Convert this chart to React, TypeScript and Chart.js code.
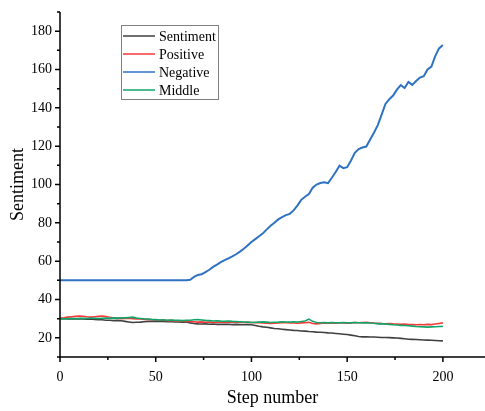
import React, { useEffect, useRef } from 'react';
import { Chart, registerables } from 'chart.js';
Chart.register(...registerables);

const steps = [
  0, 2, 4, 6, 8, 10, 12, 14, 16, 18,
  20, 22, 24, 26, 28, 30, 32, 34, 36, 38,
  40, 42, 44, 46, 48, 50, 52, 54, 56, 58,
  60, 62, 64, 66, 68, 70, 72, 74, 76, 78,
  80, 82, 84, 86, 88, 90, 92, 94, 96, 98,
  100, 102, 104, 106, 108, 110, 112, 114, 116, 118,
  120, 122, 124, 126, 128, 130, 132, 134, 136, 138,
  140, 142, 144, 146, 148, 150, 152, 154, 156, 158,
  160, 162, 164, 166, 168, 170, 172, 174, 176, 178,
  180, 182, 184, 186, 188, 190, 192, 194, 196, 198,
  200,
];

const sentiment = [
  30, 30.1, 29.9, 30, 29.8, 30, 29.9, 29.7, 29.8, 29.6,
  29.5, 29.4, 29.2, 29.2, 29, 29.1, 28.9, 28.6, 28.3, 28,
  28.1, 28.2, 28.4, 28.6, 28.6, 28.7, 28.5, 28.6, 28.4, 28.5,
  28.3, 28.3, 28.2, 28.3, 27.8, 27.5, 27.3, 27.2, 27.3, 27.1,
  27.2, 27, 27.1, 27, 27.1, 26.9, 27, 26.9, 26.8, 26.9,
  26.8, 26.4, 26, 25.7, 25.5, 25.2, 24.9, 24.7, 24.5, 24.3,
  24.1, 23.9, 23.8, 23.6, 23.5, 23.3, 23.2, 23, 22.9, 22.8,
  22.6, 22.5, 22.3, 22.1, 21.9, 21.7, 21.4, 21.1, 20.7, 20.5,
  20.5, 20.4, 20.4, 20.3, 20.2, 20.2, 20.1, 20, 19.9, 19.7,
  19.5, 19.3, 19.2, 19.1, 19, 18.9, 18.8, 18.7, 18.6, 18.5,
  18.4,
];

const positive = [
  30.3, 30.5, 30.8, 31, 31.2, 31.4, 31.3, 31, 30.8, 31,
  31.2, 31.4, 31.1, 30.7, 30.5, 30.3, 30, 30.1, 30.2, 30,
  29.8, 29.9, 29.6, 29.7, 29.5, 29.4, 29.2, 29.3, 29, 29.1,
  28.9, 28.8, 28.7, 28.6, 28.5, 28.4, 28.2, 28.3, 28.1, 28.2,
  28, 28.1, 28.2, 28, 28.1, 28.2, 28.3, 28.1, 28, 28.1,
  28, 27.9, 28, 27.8, 27.6, 27.5, 27.6, 27.7, 27.9, 28,
  27.8, 27.7, 27.6, 27.8, 27.9, 28.1, 27.5, 27.3, 27.5, 27.7,
  27.6, 27.8, 27.7, 27.9, 27.8, 27.6, 27.8, 28, 27.9, 28,
  28.1, 27.9, 27.7, 27.6, 27.4, 27.3, 27.5, 27.3, 27.2, 27.1,
  27.2, 26.9, 26.9, 26.8, 26.9, 26.8, 27, 26.9, 27.2, 27.5,
  27.8,
];

const negative = [
  50, 50, 50, 50, 50, 50, 50, 50, 50, 50,
  50, 50, 50, 50, 50, 50, 50, 50, 50, 50,
  50, 50, 50, 50, 50, 50, 50, 50, 50, 50,
  50, 50, 50, 50, 50.3, 51.8, 52.8, 53.2, 54.3, 55.5,
  57, 58.2, 59.5, 60.5, 61.5, 62.5, 63.6, 65, 66.5, 68.2,
  70, 71.5, 73, 74.5, 76.6, 78.5, 80, 81.8, 83, 84,
  84.7, 86.5, 89, 92, 93.6, 95, 98.3, 100, 100.8, 101.2,
  100.7, 103.5, 106.5, 109.8, 108.5, 109, 112.5, 116.5, 118.5, 119.3,
  119.8, 123.5, 127, 131, 136.5, 142, 144.5, 146.4, 149.5, 151.9,
  150.3, 153.5, 152, 154, 155.8, 156.5, 160, 161.5, 167, 171,
  172.8,
];

const middle = [
  30, 29.9, 30, 30.1, 30, 30.1, 30.2, 30.1, 30.3, 30.2,
  30.1, 30.2, 30.3, 30.2, 30.4, 30.3, 30.5, 30.4, 30.6, 30.8,
  30.3, 30.1, 29.9, 29.8, 29.6, 29.5, 29.3, 29.4, 29.2, 29.3,
  29.2, 29.1, 29, 29.1, 29.2, 29.4, 29.5, 29.3, 29.1, 29,
  28.8, 28.9, 28.7, 28.6, 28.8, 28.6, 28.5, 28.4, 28.3, 28.2,
  28, 28.1, 28.2, 28.3, 28.2, 28, 28.1, 28.2, 28.4, 28.3,
  28.2, 28.4, 28.3, 28.5, 28.8, 29.8, 28.6, 28, 27.9, 28,
  27.8, 28, 27.9, 27.8, 28, 27.9, 27.8, 28, 27.9, 27.8,
  27.9, 27.7, 27.6, 27.3, 27.4, 27.2, 27, 26.8, 26.7, 26.5,
  26.4, 26.3, 26.1, 25.9, 25.8, 25.7, 25.6, 25.7, 25.8, 25.9,
  26,
];

const seriesNames = ['Sentiment', 'Positive', 'Negative', 'Middle'];
const seriesColors = ['#404040', '#f53a3a', '#2f72c2', '#12a56a'];

const xMajor = [0, 50, 100, 150, 200];
const xMinor = [25, 75, 125, 175];
const yMajor = [20, 40, 60, 80, 100, 120, 140, 160, 180];
const yMinor = [10, 30, 50, 70, 90, 110, 130, 150, 170, 190];

const FONT = "'Liberation Serif', 'Times New Roman', serif";

const decorPlugin = {
  id: 'decor',
  afterDraw(chart: any) {
    const ctx = chart.ctx as CanvasRenderingContext2D;
    const xs = chart.scales.x;
    const ys = chart.scales.y;
    const { left, right, top, bottom } = chart.chartArea;
    ctx.save();
    ctx.strokeStyle = '#000';
    ctx.lineWidth = 1.5;
    ctx.beginPath();
    ctx.moveTo(left, top);
    ctx.lineTo(left, bottom);
    ctx.lineTo(right, bottom);
    xMajor.forEach((v) => {
      const px = xs.getPixelForValue(v);
      ctx.moveTo(px, bottom);
      ctx.lineTo(px, bottom + 5);
    });
    xMinor.forEach((v) => {
      const px = xs.getPixelForValue(v);
      ctx.moveTo(px, bottom);
      ctx.lineTo(px, bottom + 3);
    });
    yMajor.forEach((v) => {
      const py = ys.getPixelForValue(v);
      ctx.moveTo(left, py);
      ctx.lineTo(left - 5, py);
    });
    yMinor.forEach((v) => {
      const py = ys.getPixelForValue(v);
      ctx.moveTo(left, py);
      ctx.lineTo(left - 3, py);
    });
    ctx.stroke();

    // legend box
    const bx = 121.5, by = 25.5, bw = 97, bh = 74;
    ctx.fillStyle = '#fff';
    ctx.fillRect(bx, by, bw, bh);
    ctx.strokeStyle = '#808080';
    ctx.lineWidth = 1;
    ctx.strokeRect(bx, by, bw, bh);
    ctx.font = `14px ${FONT}`;
    ctx.textBaseline = 'middle';
    ctx.textAlign = 'left';
    chart.data.datasets.forEach((ds: any, i: number) => {
      const cy = 36 + i * 18;
      ctx.strokeStyle = ds.borderColor;
      ctx.lineWidth = 1.5;
      ctx.beginPath();
      ctx.moveTo(123, cy);
      ctx.lineTo(155, cy);
      ctx.stroke();
      ctx.fillStyle = '#000';
      ctx.fillText(ds.label, 159, cy + 1);
    });
    ctx.restore();
  },
};

export default function App() {
  const ref = useRef<HTMLCanvasElement>(null);
  useEffect(() => {
    document.body.style.margin = '0';
    const allSeries = [sentiment, positive, negative, middle];
    const orders = [3, 2, 1, 0];
    const chart = new Chart(ref.current as HTMLCanvasElement, {
      type: 'line',
      data: {
        datasets: allSeries.map((vals, i) => ({
          label: seriesNames[i],
          data: steps.map((s, j) => ({ x: s, y: vals[j] })),
          borderColor: seriesColors[i],
          backgroundColor: seriesColors[i],
          borderWidth: i === 2 ? 2 : 1.6,
          pointRadius: 0,
          tension: 0,
          fill: false,
          order: orders[i],
        })),
      },
      options: {
        animation: false,
        responsive: false,
        devicePixelRatio: 1,
        layout: { padding: { top: 12, left: 0, right: 0, bottom: 0 } },
        plugins: { legend: { display: false }, tooltip: { enabled: false } },
        scales: {
          x: {
            type: 'linear',
            min: 0,
            max: 222,
            grid: { display: false, drawTicks: false },
            border: { display: false },
            afterBuildTicks: (scale: any) => {
              scale.ticks = xMajor.map((v) => ({ value: v }));
            },
            afterFit: (scale: any) => {
              scale.height = 54;
              scale.paddingLeft = 0;
              scale.paddingRight = 0;
            },
            ticks: {
              padding: 12,
              color: '#000',
              font: { family: FONT, size: 14 },
              maxRotation: 0,
            },
            title: {
              display: true,
              text: 'Step number',
              color: '#000',
              font: { family: FONT, size: 18 },
              padding: { top: 0, bottom: 2 },
            },
          },
          y: {
            type: 'linear',
            min: 10,
            max: 190,
            grid: { display: false, drawTicks: false },
            border: { display: false },
            afterBuildTicks: (scale: any) => {
              scale.ticks = yMajor.map((v) => ({ value: v }));
            },
            afterFit: (scale: any) => {
              scale.width = 60;
              scale.paddingTop = 0;
              scale.paddingBottom = 0;
            },
            ticks: {
              padding: 8,
              color: '#000',
              font: { family: FONT, size: 14 },
            },
            title: {
              display: true,
              text: 'Sentiment',
              color: '#000',
              font: { family: FONT, size: 18 },
              padding: { top: 7, bottom: 0 },
            },
          },
        },
      },
      plugins: [decorPlugin],
    } as any);
    return () => chart.destroy();
  }, []);
  return (
    <div style={{ width: 485, height: 411 }}>
      <canvas ref={ref} width={485} height={411} style={{ display: 'block' }} />
    </div>
  );
}
